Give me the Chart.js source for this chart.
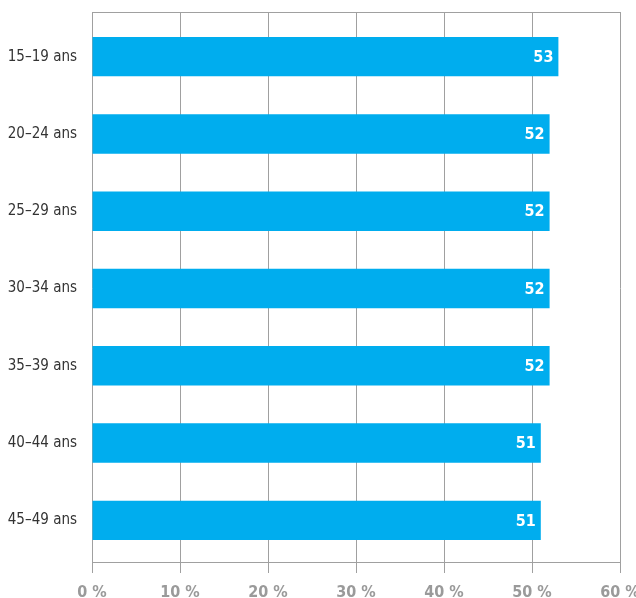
<!DOCTYPE html>
<html>
<head>
<meta charset="utf-8">
<script src="https://cdn.jsdelivr.net/npm/chart.js@4"></script>
<style>
  html, body { margin: 0; padding: 0; background: #fff; }
  #wrap { width: 636px; height: 598px; }
</style>
</head>
<body>
<div id="wrap"><canvas id="stage" width="636" height="598"></canvas></div>
<script>
// tranches d'âge et valeurs (%)
var AGES = ['15–19 ans', '20–24 ans', '25–29 ans', '30–34 ans', '35–39 ans', '40–44 ans', '45–49 ans'];
var VALS = [53, 52, 52, 52, 52, 51, 51];
var X_TICKS = [0, 10, 20, 30, 40, 50, 60];

var FONT = '"Liberation Sans Narrow", "DejaVu Sans Condensed", Roboto, sans-serif';
var GRID = '#a0a0a0';

// étiquettes blanches au bout des barres
var valueLabels = {
  id: 'valueLabels',
  afterDatasetsDraw: function(chart) {
    var ctx = chart.ctx;
    var meta = chart.getDatasetMeta(0);
    ctx.save();
    ctx.fillStyle = '#ffffff';
    ctx.font = 'bold 16px ' + FONT;
    ctx.textAlign = 'right';
    ctx.textBaseline = 'middle';
    meta.data.forEach(function(bar, i) {
      ctx.fillText(String(VALS[i]), bar.x - 5, bar.y + 1);
    });
    ctx.restore();
  }
};

// cadre : ligne du haut, ligne du bas et prolongement des verticales
var frame = {
  id: 'frame',
  beforeDatasetsDraw: function(chart) {
    var a = chart.chartArea, ctx = chart.ctx, xs = chart.scales.x;
    var top = a.top - 6, bot = a.bottom + 3;
    ctx.save();
    ctx.strokeStyle = GRID;
    ctx.lineWidth = 1;
    ctx.beginPath();
    ctx.moveTo(a.left, top + 0.5);
    ctx.lineTo(a.right, top + 0.5);
    ctx.moveTo(a.left, bot + 0.5);
    ctx.lineTo(a.right, bot + 0.5);
    X_TICKS.forEach(function(v) {
      var x = Math.round(xs.getPixelForValue(v)) + 0.5;
      ctx.moveTo(x, top);
      ctx.lineTo(x, a.top);
    });
    ctx.stroke();
    ctx.restore();
  }
};

var canvas = document.getElementById('stage');
new Chart(canvas, {
  type: 'bar',
  data: {
    labels: AGES,
    datasets: [{
      data: VALS,
      backgroundColor: '#00adee',
      borderWidth: 0,
      barPercentage: 0.51,
      categoryPercentage: 1.0
    }]
  },
  options: {
    indexAxis: 'y',
    responsive: false,
    animation: false,
    events: [],
    layout: { padding: { top: 18, right: 16, left: 0, bottom: 0 } },
    plugins: { legend: { display: false }, tooltip: { enabled: false } },
    scales: {
      x: {
        min: 0, max: 60,
        afterBuildTicks: function(s) { s.ticks = X_TICKS.map(function(v) { return { value: v }; }); },
        afterFit: function(s) { s.height = 39; s.paddingLeft = 0; s.paddingRight = 0; },
        grid: { color: GRID, lineWidth: 1, drawTicks: true, tickLength: 14 },
        border: { display: false },
        ticks: {
          color: '#9a9a9a',
          padding: 10,
          maxRotation: 0,
          font: { family: FONT, size: 16, weight: 'bold' },
          callback: function(v) { return v + ' %'; }
        }
      },
      y: {
        afterFit: function(s) { s.width = 92; s.paddingTop = 0; s.paddingBottom = 0; },
        grid: { display: false, drawTicks: false },
        border: { display: false },
        ticks: {
          color: '#333333',
          padding: 15,
          font: { family: FONT, size: 15 }
        }
      }
    }
  },
  plugins: [frame, valueLabels]
});
</script>
</body>
</html>
